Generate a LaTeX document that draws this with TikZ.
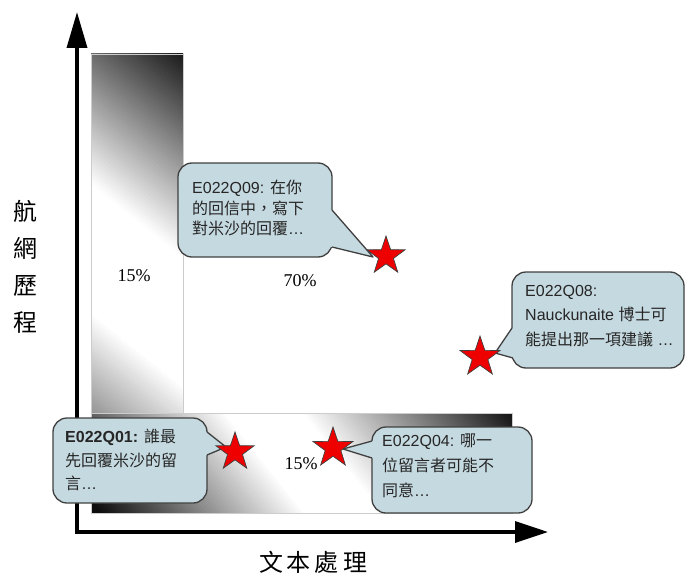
\documentclass[tikz,border=0pt]{standalone}
\usepackage{fontspec}
\setmainfont{Liberation Sans}
\newfontfamily\cjk{Noto Sans CJK TC}
\newfontfamily\tnr{Liberation Serif}
\usetikzlibrary{arrows.meta,shapes.geometric,calc}
\definecolor{bubblefill}{RGB}{197,217,224}
\definecolor{bubbleline}{RGB}{64,64,64}
\definecolor{starred}{RGB}{238,0,0}
\newcommand{\zh}[1]{{\cjk #1}}
\begin{document}
\begin{tikzpicture}[x=1pt,y=-1pt,
  bubble/.style={draw=bubbleline, fill=bubblefill, line width=1.3pt, rounded corners=14pt, inner sep=0pt},
  tailline/.style={draw=bubbleline, line width=1.3pt, line join=round},
  bubbletext/.style={align=left, anchor=west, inner sep=0pt, text=black!85},
  starmark/.style={star, star points=5, star point ratio=2.55, fill=starred, draw=black!75, line width=0.7pt, inner sep=0pt},
  pct/.style={font=\tnr\fontsize{18}{20}\selectfont, inner sep=0pt},
  axisline/.style={line width=3.5pt},
  barframe/.style={draw=black!20, line width=0.5pt},
]
\useasboundingbox (0,0) rectangle (685,575);

% vertical gradient bar (strips along a tilted axis)
\begin{scope}
\clip (91,54) rectangle (183,513);
\foreach \u in {-250,-247,...,250}{
  \pgfmathsetmacro\dk{ifthenelse((\u)<0,90,85)*min(1,max(0,(abs(\u)-50)/160))}
  \fill[black!\dk]
    ({137+(\u)*(-0.625)+300*0.781},{283.5+(\u)*0.781+300*0.625}) --
    ({137+(\u)*(-0.625)-300*0.781},{283.5+(\u)*0.781-300*0.625}) --
    ({137+(\u+3.6)*(-0.625)-300*0.781},{283.5+(\u+3.6)*0.781-300*0.625}) --
    ({137+(\u+3.6)*(-0.625)+300*0.781},{283.5+(\u+3.6)*0.781+300*0.625}) -- cycle;
}
\end{scope}
\draw[barframe] (91,54) rectangle (183,513);

% horizontal gradient bar
\begin{scope}
\clip (91,413) rectangle (512,513);
\foreach \u in {-240,-237,...,240}{
  \pgfmathsetmacro\dk{ifthenelse((\u)<0,95,90)*min(1,max(0,(abs(\u)-30)/160))}
  \fill[black!\dk]
    ({301.5+(\u)*0.781+300*0.625},{463+(\u)*(-0.625)+300*0.781}) --
    ({301.5+(\u)*0.781-300*0.625},{463+(\u)*(-0.625)-300*0.781}) --
    ({301.5+(\u+3.6)*0.781-300*0.625},{463+(\u+3.6)*(-0.625)-300*0.781}) --
    ({301.5+(\u+3.6)*0.781+300*0.625},{463+(\u+3.6)*(-0.625)+300*0.781}) -- cycle;
}
\end{scope}
\draw[barframe] (91,413) rectangle (512,513);

% axes
\coordinate (ytip) at (77,12);
\coordinate (origin) at (77,532);
\coordinate (xtip) at (548,532);
\draw[axisline, {Triangle[width=20pt,length=36pt]}-{Triangle[width=21pt,length=33pt]}] (ytip) -- (origin) -- (xtip);

% axis labels
\node[font={\cjk\fontsize{24}{37}\selectfont}, align=center] (ylab) at (25,267) {航\\網\\歷\\程};
\node[font={\cjk\fontsize{24}{28}\selectfont}] (xlab) at (313,562) {文\,本\,處\,理};

% percentages
\node[pct] (p1) at (134,276) {15\%};
\node[pct] (p2) at (300,281) {70\%};
\node[pct] (p3) at (301,464) {15\%};

% bubble 1
\node[bubble, minimum width=154pt, minimum height=94pt] (b1) at (255,210) {};
\coordinate (b1a) at (332,210);
\coordinate (b1b) at (332,247);
\coordinate (b1t) at (373,257);
\fill[bubblefill] (b1a) -- (b1t) -- (b1b) -- ($(b1b)+(-5,0)$) -- ($(b1a)+(-5,0)$) -- cycle;
\draw[tailline] (b1a) -- (b1t) -- (b1b);
\node[bubbletext, font={\fontsize{16}{20.5}\selectfont}] (t1) at (192,208)
  {E022Q09: \zh{在你}\\\zh{的回信中，寫下}\\\zh{對米沙的回覆}…};

% bubble 2
\node[bubble, minimum width=172pt, minimum height=96pt] (b2) at (598,320) {};
\coordinate (b2a) at (512,328);
\coordinate (b2b) at (513,358);
\coordinate (b2t) at (495,353);
\fill[bubblefill] (b2a) -- (b2t) -- (b2b) -- ($(b2b)+(5,0)$) -- ($(b2a)+(5,0)$) -- cycle;
\draw[tailline] (b2a) -- (b2t) -- (b2b);
\node[bubbletext, font={\fontsize{16}{24.5}\selectfont}] (t2) at (525,316)
  {E022Q08:\\Nauckunaite \zh{博士可}\\\zh{能提出那一項建議} …};

% bubble 3
\node[bubble, minimum width=154pt, minimum height=85pt] (b3) at (130,460.5) {};
\coordinate (b3a) at (207,432);
\coordinate (b3b) at (207,455);
\coordinate (b3t) at (226,447);
\fill[bubblefill] (b3a) -- (b3t) -- (b3b) -- ($(b3b)+(-5,0)$) -- ($(b3a)+(-5,0)$) -- cycle;
\draw[tailline] (b3a) -- (b3t) -- (b3b);
\node[bubbletext, font={\fontsize{16}{23.5}\selectfont}] (t3) at (65,460)
  {\textbf{E022Q01:} \zh{誰最}\\\zh{先回覆米沙的留}\\\zh{言}…};

% bubble 4
\node[bubble, minimum width=160pt, minimum height=86pt] (b4) at (452,470) {};
\coordinate (b4a) at (372,441);
\coordinate (b4b) at (372,458);
\coordinate (b4t) at (343,449);
\fill[bubblefill] (b4a) -- (b4t) -- (b4b) -- ($(b4b)+(5,0)$) -- ($(b4a)+(5,0)$) -- cycle;
\draw[tailline] (b4a) -- (b4t) -- (b4b);
\node[bubbletext, font={\fontsize{16}{25}\selectfont}] (t4) at (382,466)
  {E022Q04: \zh{哪一}\\\zh{位留言者可能不}\\\zh{同意}…};

% stars
\node[starmark, minimum size=40pt] (s1) at (386,256) {};
\node[starmark, minimum size=42pt] (s2) at (480,357) {};
\node[starmark, minimum size=40pt] (s3) at (235,452) {};
\node[starmark, minimum size=42pt] (s4) at (333,448) {};
\end{tikzpicture}
\end{document}
